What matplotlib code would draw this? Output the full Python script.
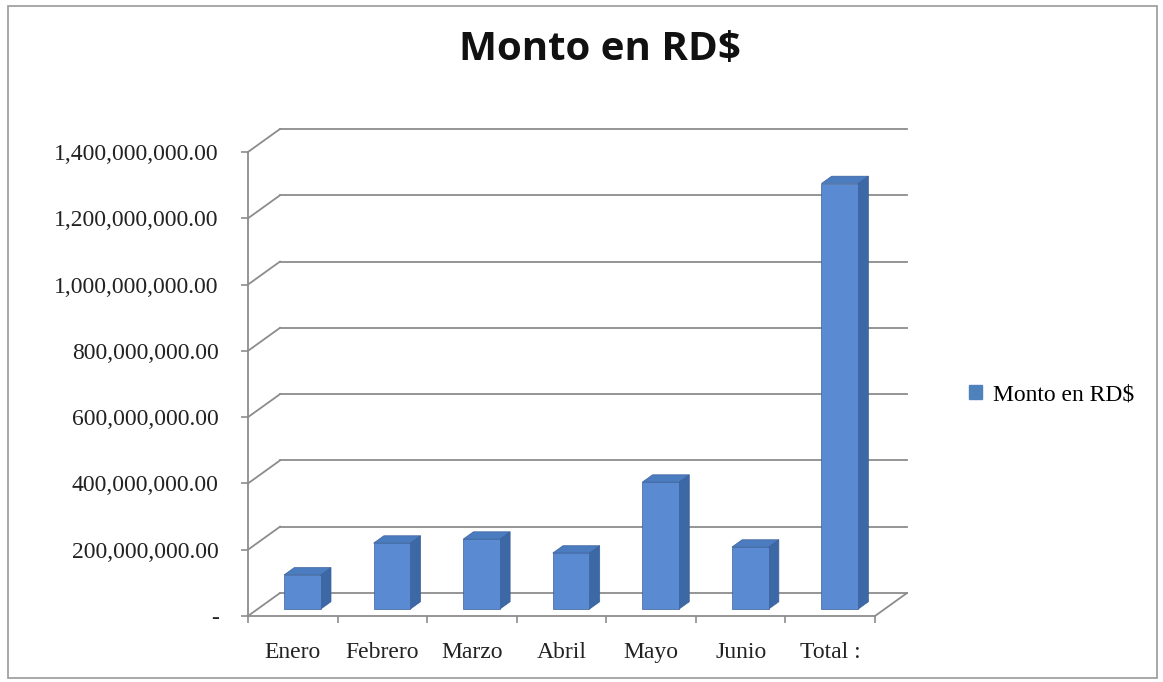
import matplotlib
matplotlib.use("Agg")
import matplotlib.pyplot as plt
import matplotlib.transforms as mtransforms
from matplotlib.patches import Polygon, Rectangle, Patch
from matplotlib.ticker import FuncFormatter
import numpy as np

# data
meses = ['Enero', 'Febrero', 'Marzo', 'Abril', 'Mayo', 'Junio', 'Total :']
montos = [103e6, 199e6, 211e6, 169e6, 383e6, 187e6, 1284e6]
y_ticks = [0, 200e6, 400e6, 600e6, 800e6, 1000e6, 1200e6, 1400e6]

serie = 'Monto en RD$'
titulo = 'Monto en RD$'

# colors
c_front = '#5a8bd2'
c_side = '#3d68a6'
c_top = '#4b7cc0'
c_edge = '#3a609a'
c_grid = '#8c8c8c'

# 3d depth offset (pixels) of the back wall
DX, DY = 32, 23
BAR_F, BAR_B = 0.30, 0.62   # depth fractions of bar front / back
BAR_W = 0.41

W, H = 1163, 682
fig = plt.figure(figsize=(W / 100, H / 100), dpi=100)
serif = ['Liberation Serif', 'DejaVu Serif']

# axes covers the front plane
x0, x1 = 248, 875
y0, y1 = 616, 152
ax = fig.add_axes([x0 / W, (H - y0) / H, (x1 - x0) / W, (y0 - y1) / H])
ax.set_xlim(0, len(meses))
ax.set_ylim(0, 1400e6)
ax.patch.set_visible(False)

for s in ['top', 'right']:
    ax.spines[s].set_visible(False)
for s in ['left', 'bottom']:
    ax.spines[s].set_color(c_grid)
    ax.spines[s].set_linewidth(1.3)

ax.set_yticks(y_ticks)
ax.yaxis.set_major_formatter(FuncFormatter(lambda v, p: '-' if v == 0 else f'{v:,.2f}'))
ax.set_xticks(np.arange(len(meses) + 1))
ax.set_xticklabels([])
ax.set_xticks(np.arange(len(meses)) + 0.5, minor=True)
ax.set_xticklabels(meses, minor=True)
ax.tick_params(axis='y', length=5, width=1.2, color=c_grid, pad=16, labelsize=17, labelcolor='#222222')
ax.tick_params(axis='x', which='major', length=5, width=1.2, color=c_grid, direction='out')
ax.tick_params(axis='x', which='minor', length=0, pad=19, labelsize=17, labelcolor='#222222')
for lab in ax.get_yticklabels() + ax.get_xticklabels(minor=True):
    lab.set_family(serif)

back = mtransforms.offset_copy(ax.transData, fig=fig, x=DX, y=DY, units='dots')
n = len(meses)

# back wall gridlines + side wall + floor
for v in y_ticks:
    ax.plot([0, n], [v, v], color=c_grid, lw=1.3, transform=back, clip_on=False, zorder=1)
    p0 = ax.transData.transform((0, v))
    ax.plot([p0[0], p0[0] + DX], [p0[1], p0[1] + DY], color=c_grid, lw=1.3,
            transform=mtransforms.IdentityTransform(), clip_on=False, zorder=1)
pr = ax.transData.transform((n, 0))
ax.plot([pr[0], pr[0] + DX], [pr[1], pr[1] + DY], color=c_grid, lw=1.3,
        transform=mtransforms.IdentityTransform(), clip_on=False, zorder=1)


def disp(x, v, depth):
    p = ax.transData.transform((x, v))
    return (p[0] + DX * depth, p[1] + DY * depth)


# bars: front faces through ax.bar, side and top as polygons
front = mtransforms.offset_copy(ax.transData, fig=fig, x=DX * BAR_F, y=DY * BAR_F, units='dots')
xs = np.arange(n) + 0.5
ax.bar(xs, montos, width=BAR_W, color=c_front, edgecolor=c_edge, linewidth=0.5,
       transform=front, clip_on=False, zorder=3)
for x, v in zip(xs, montos):
    xl, xr = x - BAR_W / 2, x + BAR_W / 2
    side = [disp(xr, 0, BAR_F), disp(xr, v, BAR_F), disp(xr, v, BAR_B), disp(xr, 0, BAR_B)]
    top = [disp(xl, v, BAR_F), disp(xr, v, BAR_F), disp(xr, v, BAR_B), disp(xl, v, BAR_B)]
    for pts, c in [(side, c_side), (top, c_top)]:
        ax.add_patch(Polygon(pts, closed=True, facecolor=c, edgecolor=c_edge, lw=0.5,
                             transform=mtransforms.IdentityTransform(), clip_on=False, zorder=2))

# title
fig.text(600 / W, 1 - 49 / H, titulo, ha='center', va='center', fontsize=29,
         fontweight='bold', family=['Open Sans', 'DejaVu Sans'], color='#111111')

# legend
fig.legend(handles=[Patch(facecolor='#4f81bd', edgecolor='#4f81bd', label=serie)],
           loc='center left', bbox_to_anchor=(948 / W, 1 - 395 / H), frameon=False,
           handlelength=0.55, handleheight=0.55, handletextpad=0.45,
           prop={'family': serif, 'size': 17})

# outer chart border
fig.patches.append(Rectangle((8 / W, 4 / H), (W - 14) / W, (H - 10) / H, transform=fig.transFigure,
                             fill=False, edgecolor='#9a9a9a', lw=1.2))

fig.savefig('out.png', dpi=100)
